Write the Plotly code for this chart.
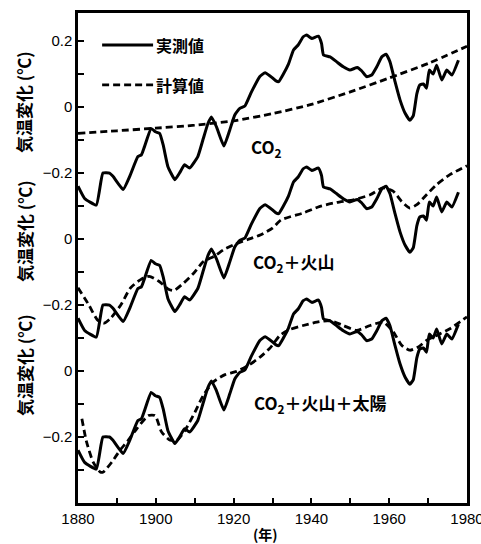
import plotly.graph_objects as go

# Observed global temperature anomaly (°C), same record shown in every panel
obs_year = [1880, 1881.7, 1884.7, 1886.4, 1888.1, 1889.0, 1891.6, 1893.3, 1895.4, 1896.3,
            1897.1, 1898.8, 1899.9, 1901.0, 1901.9, 1903.1, 1904.9, 1906.1, 1907.4, 1908.7,
            1910.8, 1912.1, 1913.4, 1914.3, 1915.6, 1917.5, 1919.0, 1920.3, 1921.6, 1922.9,
            1924.6, 1926.7, 1928.1, 1929.5, 1930.8, 1931.6, 1932.8, 1934.1, 1935.4, 1936.6,
            1937.9, 1938.8, 1940.1, 1941.8, 1942.6, 1943.1, 1944.8, 1946.5, 1948.2, 1949.9,
            1951.8, 1952.9, 1954.2, 1955.5, 1956.8, 1958.1, 1959.2, 1960.2, 1961.5, 1962.8,
            1964.1, 1965.3, 1966.2, 1967.1, 1967.9, 1968.8, 1969.6, 1970.3, 1971.3, 1972.2,
            1973.5, 1974.8, 1976.1, 1977.8]
obs_temp = [-0.24, -0.277, -0.297, -0.20, -0.20, -0.21, -0.25, -0.21, -0.15, -0.145,
            -0.12, -0.065, -0.075, -0.08, -0.115, -0.18, -0.22, -0.20, -0.175, -0.185,
            -0.15, -0.10, -0.05, -0.03, -0.06, -0.118, -0.07, -0.024, -0.004, 0.003,
            0.046, 0.092, 0.104, 0.093, 0.08, 0.077, 0.10, 0.13, 0.173, 0.188,
            0.213, 0.218, 0.208, 0.215, 0.193, 0.158, 0.152, 0.137, 0.122, 0.112,
            0.12, 0.11, 0.092, 0.097, 0.122, 0.152, 0.16, 0.137, 0.077, 0.021,
            -0.019, -0.04, -0.026, 0.04, 0.067, 0.07, 0.057, 0.112, 0.10, 0.127,
            0.082, 0.112, 0.097, 0.142]

# Model: CO2 only
co2_year = [1880, 1890, 1900, 1910, 1920, 1930, 1940, 1950, 1960, 1970, 1980]
co2_temp = [-0.08, -0.072, -0.064, -0.055, -0.042, -0.02, 0.008, 0.046, 0.088, 0.132, 0.184]

# Model: CO2 + volcanic dust
volc_year = [1880, 1882.8, 1885.0, 1886.7, 1888.4, 1891.0, 1893.5, 1896.1, 1898.3, 1900.8,
             1903.4, 1904.7, 1907.2, 1909.8, 1912.3, 1914.9, 1917.5, 1920.1, 1923.5, 1927.0,
             1930.0, 1932.2, 1937.9, 1942.2, 1946.5, 1950.8, 1955.1, 1958.4, 1961.0, 1963.2,
             1965.3, 1967.1, 1969.6, 1972.2, 1975.6, 1980]
volc_temp = [-0.148, -0.20, -0.245, -0.255, -0.24, -0.20, -0.148, -0.123, -0.113, -0.128,
             -0.153, -0.156, -0.133, -0.103, -0.068, -0.053, -0.032, -0.017, -0.002, 0.013,
             0.033, 0.058, 0.079, 0.099, 0.111, 0.119, 0.134, 0.155, 0.145, 0.114,
             0.094, 0.104, 0.134, 0.165, 0.195, 0.222]

# Model: CO2 + volcanic dust + solar variation
full_year = [1881.0, 1882.2, 1883.9, 1885.7, 1886.5, 1888.7, 1890.8, 1892.9, 1895.1, 1898.1,
             1899.8, 1901.5, 1903.7, 1905.4, 1907.5, 1910.1, 1912.2, 1914.8, 1917.8, 1920.8,
             1923.8, 1926.8, 1929.4, 1931.9, 1934.5, 1937.9, 1941.4, 1944.8, 1948.2, 1951.6,
             1955.1, 1958.5, 1961.1, 1963.2, 1965.3, 1967.5, 1969.6, 1972.2, 1975.6, 1980]
full_temp = [-0.145, -0.215, -0.276, -0.306, -0.306, -0.276, -0.24, -0.21, -0.175, -0.135,
             -0.135, -0.185, -0.21, -0.21, -0.18, -0.124, -0.074, -0.033, -0.011, -0.001,
             0.017, 0.042, 0.07, 0.108, 0.126, 0.138, 0.148, 0.153, 0.138, 0.123,
             0.138, 0.148, 0.118, 0.078, 0.063, 0.073, 0.093, 0.108, 0.128, 0.164]

x_tickvals = list(range(1880, 1981, 10))
x_ticktext = [str(v) if v % 20 == 0 else "" for v in x_tickvals]

# Panels are stacked with a vertical offset of 0.4 °C between their zero lines
panel_offset = 0.4
y_range = [-1.2, 0.285]
y_tickvals = [round(0.2 - 0.1 * i, 2) for i in range(14)]
y_labels = {0.2: "0.2", 0.0: "0", -0.2: "−0.2", -0.4: "0", -0.6: "−0.2", -0.8: "0", -1.0: "−0.2"}
y_ticktext = [y_labels.get(v, "") for v in y_tickvals]

JP = "Noto Sans CJK JP"
NUM = "Liberation Sans"

# plot area in pixels
L, R, T, B, W, H = 78, 14, 13, 41, 481, 544
PW, PH = W - L - R, H - T - B

solid = dict(color="black", width=3, shape="spline", smoothing=0.4)
dashed = dict(color="black", width=2.8, dash="7px,4px", shape="spline", smoothing=0.6)

fig = go.Figure()
panels = [("y", co2_year, co2_temp), ("y2", volc_year, volc_temp), ("y3", full_year, full_temp)]
for axis, myear, mtemp in panels:
    fig.add_trace(go.Scatter(x=obs_year, y=obs_temp, mode="lines", line=solid,
                             yaxis=axis, name="実測値", showlegend=False))
    fig.add_trace(go.Scatter(x=myear, y=mtemp, mode="lines", line=dashed,
                             yaxis=axis, name="計算値", showlegend=False))

frame = dict(showline=True, linecolor="black", linewidth=2.5, mirror=True,
             showgrid=False, zeroline=False, automargin=False)

fig.update_layout(
    width=W, height=H,
    margin=dict(l=L, r=R, t=T, b=B, autoexpand=False),
    paper_bgcolor="white", plot_bgcolor="white",
    xaxis=dict(range=[1880, 1980], tickvals=x_tickvals, ticktext=x_ticktext,
               ticks="inside", ticklen=5, tickwidth=2, tickcolor="black",
               ticklabeloverflow="allow",
               tickfont=dict(family=NUM, size=15, color="black"), **frame),
    yaxis=dict(range=y_range, tickvals=y_tickvals, ticktext=y_ticktext,
               ticks="inside", ticklen=6, tickwidth=2, tickcolor="black",
               tickfont=dict(family=NUM, size=15, color="black"), **frame),
    yaxis2=dict(range=[y_range[0] + panel_offset, y_range[1] + panel_offset],
                overlaying="y", visible=False),
    yaxis3=dict(range=[y_range[0] + 2 * panel_offset, y_range[1] + 2 * panel_offset],
                overlaying="y", visible=False),
)

# Legend drawn inside the top panel
fig.add_shape(type="line", xref="x", yref="y", x0=1886.2, x1=1899.3, y0=0.188, y1=0.188,
              line=dict(color="black", width=3))
fig.add_shape(type="line", xref="x", yref="y", x0=1886.2, x1=1899.3, y0=0.067, y1=0.067,
              line=dict(color="black", width=2.8, dash="7px,4px"))
for text, yv in [("実測値", 0.188), ("計算値", 0.067)]:
    fig.add_annotation(x=1899.5, y=yv, xref="x", yref="y", text=f"<b>{text}</b>",
                       showarrow=False, xanchor="left", yanchor="middle",
                       font=dict(family=JP, size=16, color="black"))

# Panel labels
for text, xv, yv, axis in [("CO<sub>2</sub>", 1924.0, -0.124, "y"),
                           ("CO<sub>2</sub>＋火山", 1924.4, -0.07, "y2"),
                           ("CO<sub>2</sub>＋火山＋太陽", 1924.8, -0.099, "y3")]:
    fig.add_annotation(x=xv, y=yv, xref="x", yref=axis, text=f"<b>{text}</b>",
                       showarrow=False, xanchor="left", yanchor="middle",
                       font=dict(family=JP, size=17, color="black"))

# Y-axis titles, one per panel (centres in pixels from the top)
for cy in [102, 231, 365]:
    fig.add_annotation(x=(24 - L) / PW, y=1 - (cy - T) / PH, xref="paper", yref="paper",
                       text="<b>気温変化 (℃)</b>", showarrow=False, textangle=-90,
                       xanchor="center", yanchor="middle",
                       font=dict(family=JP, size=17, color="black"))

# X-axis title
fig.add_annotation(x=(265 - L) / PW, y=-(534 - (H - B)) / PH,
                   xref="paper", yref="paper", text="<b>(年)</b>", showarrow=False,
                   xanchor="center", yanchor="middle",
                   font=dict(family=JP, size=14, color="black"))

fig.write_html("out.html")
